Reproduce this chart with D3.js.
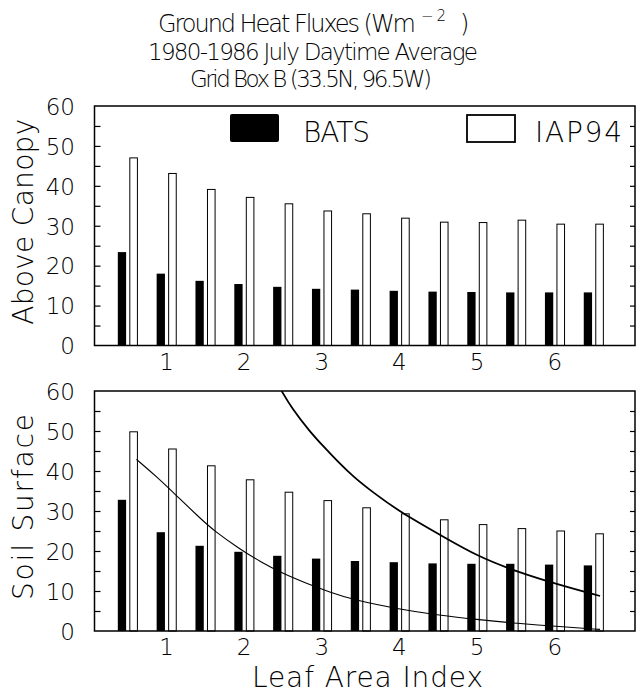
<!DOCTYPE html>
<html><head><meta charset="utf-8">
<script src="https://cdn.jsdelivr.net/npm/d3@7"></script>
<style>
body{margin:0;background:#fff}
text{font-family:"DejaVu Sans","Liberation Sans",sans-serif;font-weight:200;fill:#000}
</style>
</head><body><svg id="c" width="642" height="693"></svg>
<script>
// ---- data ----
const lai = [0.5,1,1.5,2,2.5,3,3.5,4,4.5,5,5.5,6,6.5];
const batsAbove = [23.4,18.0,16.2,15.4,14.7,14.2,14.0,13.7,13.5,13.4,13.3,13.3,13.3];
const iapAbove  = [47.0,43.1,39.1,37.1,35.5,33.7,33.0,31.9,30.9,30.8,31.4,30.4,30.4];
const batsSoil  = [32.8,24.7,21.3,19.8,18.8,18.1,17.5,17.2,16.9,16.8,16.8,16.6,16.4];
const iapSoil   = [49.8,45.5,41.3,37.8,34.7,32.6,30.8,29.3,27.8,26.6,25.6,25.0,24.3];
const upperCurveLai = [2.49,2.62,2.855,3.03,3.20,3.41,3.67,4.01,4.57,5.0,5.52,6.07,6.59];
const upperCurveVal = [60.0,55.7,49.8,46.1,42.6,38.6,34.6,29.8,23.6,18.8,14.8,11.5,8.75];
const lowerCurveLai = [0.62,0.88,1.18,1.44,1.61,1.95,2.21,2.51,2.81,3.11,3.41,3.99,4.49,5.0,5.52,6.07,6.59];
const lowerCurveVal = [42.9,38.6,33.0,28.2,25.2,20.5,17.4,14.3,11.9,9.7,7.8,5.5,4.0,2.9,1.9,1.1,0.4];
const yTickVals = [0,10,20,30,40,50,60];
const yMinorVals = d3.range(5,60,5);
const xTickVals = [1,2,3,4,5,6];
const legendNames = ["BATS","IAP94"];

const svg = d3.select("#c");
const L = 94.5, R = 635;
const x = d3.scaleLinear().domain([0.08,7.04]).range([L,R]);

function panel(top, bottom, bats, iap, title, titleLen, curves){
  const y = d3.scaleLinear().domain([0,60]).range([bottom, top]);
  const g = svg.append("g");
  g.selectAll(".b").data(lai).enter().append("rect")
    .attr("x", (d)=>x(d)-9.3).attr("width",8.3)
    .attr("y",(d,i)=>y(bats[i])).attr("height",(d,i)=>y(0)-y(bats[i]))
    .attr("fill","#000");
  g.selectAll(".w").data(lai).enter().append("rect")
    .attr("x", (d)=>x(d)+2.7).attr("width",7.6)
    .attr("y",(d,i)=>y(iap[i])).attr("height",(d,i)=>y(0)-y(iap[i]))
    .attr("fill","#fff").attr("stroke","#000").attr("stroke-width",1);
  if(curves){
    const clipId = "clip"+Math.round(top);
    svg.append("clipPath").attr("id",clipId).append("rect")
      .attr("x",L).attr("y",top).attr("width",R-L).attr("height",bottom-top);
    curves.forEach(c=>{
      const line = d3.line().x((d,i)=>x(c.lai[i])).y((d)=>y(d)).curve(d3.curveBasis);
      g.append("path").datum(c.val).attr("d",line).attr("fill","none")
        .attr("stroke","#000").attr("stroke-width",c.w).attr("clip-path",`url(#${clipId})`);
    });
  }
  g.append("rect").attr("x",L).attr("y",top).attr("width",R-L).attr("height",bottom-top)
    .attr("fill","none").attr("stroke","#000").attr("stroke-width",1.5);
  const tl = d3.axisLeft(y).tickValues(yMinorVals).tickSize(-6).tickFormat("");
  const tr = d3.axisRight(y).tickValues(yMinorVals).tickSize(-5).tickFormat("");
  const ga = g.append("g").attr("transform",`translate(${L},0)`).call(tl);
  const gb = g.append("g").attr("transform",`translate(${R},0)`).call(tr);
  [ga,gb].forEach(a=>{a.select(".domain").remove(); a.selectAll("line").attr("stroke","#000").attr("stroke-width",1.2);});
  const yl = d3.axisLeft(y).tickValues(yTickVals).tickSize(0).tickPadding(0).tickFormat(d3.format("d"));
  const gy = g.append("g").attr("transform",`translate(75,0)`).call(yl);
  gy.select(".domain").remove();
  gy.selectAll("text").attr("font-size",23).attr("font-family",null).attr("dy","0.36em");
  const xl = d3.axisBottom(x).tickValues(xTickVals).tickSize(0).tickPadding(0).tickFormat(d3.format("d"));
  const gx = g.append("g").attr("transform",`translate(0,${bottom+8})`).call(xl);
  gx.select(".domain").remove();
  gx.selectAll("text").attr("font-size",23).attr("font-family",null).attr("dy","0.71em");
  g.append("text").attr("transform",`translate(33,${(top+bottom)/2-4}) rotate(-90)`)
    .attr("text-anchor","middle").attr("font-size",28)
    .attr("textLength",titleLen).attr("lengthAdjust","spacing").text(title);
  return y;
}

panel(106,345.5,batsAbove,iapAbove,"Above Canopy",206,null);
panel(391,631,batsSoil,iapSoil,"Soil Surface",186,[
  {lai:lowerCurveLai,val:lowerCurveVal,w:1.1},
  {lai:upperCurveLai,val:upperCurveVal,w:1.8}
]);

// legend
svg.append("rect").attr("x",230).attr("y",114).attr("width",49).attr("height",28).attr("rx",2).attr("fill","#000");
svg.append("text").attr("x",303).attr("y",142).attr("font-size",28).attr("textLength",67).attr("lengthAdjust","spacing").text(legendNames[0]);
svg.append("rect").attr("x",467).attr("y",115).attr("width",48).attr("height",27).attr("fill","#fff").attr("stroke","#000").attr("stroke-width",1.8);
svg.append("text").attr("x",535).attr("y",142).attr("font-size",28).attr("textLength",87).attr("lengthAdjust","spacing").text(legendNames[1]);

// titles
svg.append("text").attr("x",158).attr("y",32).attr("font-size",24).attr("textLength",258).attr("lengthAdjust","spacing").text("Ground Heat Fluxes (Wm");
svg.append("text").attr("x",421).attr("y",21).attr("font-size",15).attr("textLength",25).attr("lengthAdjust","spacing").text("−2");
svg.append("text").attr("x",460).attr("y",32).attr("font-size",24).text(")");
svg.append("text").attr("x",148).attr("y",60).attr("font-size",23).attr("textLength",330).attr("lengthAdjust","spacing").text("1980-1986 July Daytime Average");
svg.append("text").attr("x",190).attr("y",87).attr("font-size",23).attr("textLength",242).attr("lengthAdjust","spacing").text("Grid Box B (33.5N, 96.5W)");
svg.append("text").attr("x",252).attr("y",687).attr("font-size",28).attr("textLength",231).attr("lengthAdjust","spacing").text("Leaf Area Index");
</script></body></html>
